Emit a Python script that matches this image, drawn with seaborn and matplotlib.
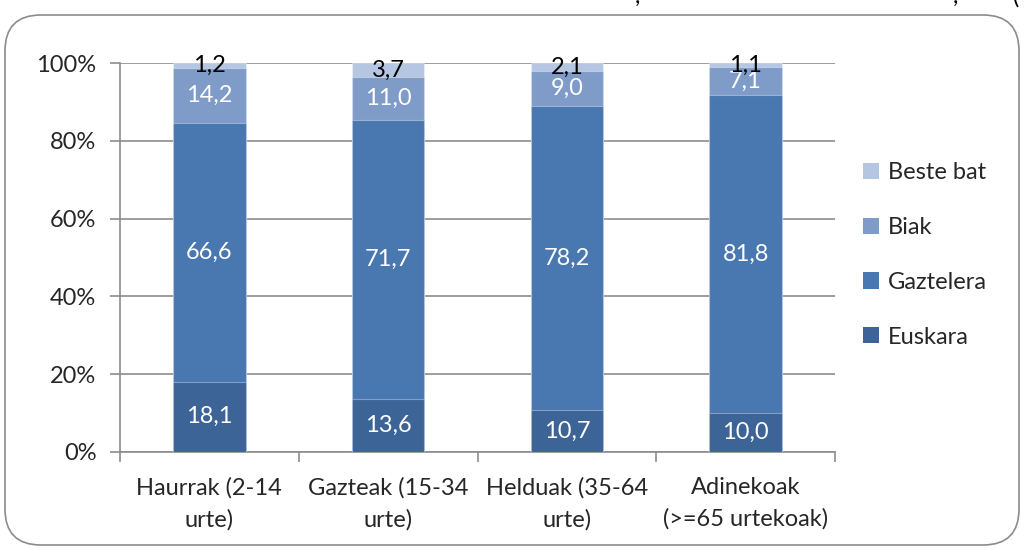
import matplotlib
matplotlib.use("Agg")
import matplotlib.pyplot as plt
from matplotlib.patches import FancyBboxPatch, Patch
import numpy as np
import pandas as pd
import seaborn as sns

categories = ["Haurrak (2-14\nurte)", "Gazteak (15-34\nurte)", "Helduak (35-64\nurte)", "Adinekoak\n(>=65 urtekoak)"]
series_names = ["Euskara", "Gaztelera", "Biak", "Beste bat"]
euskara = [18.1, 13.6, 10.7, 10.0]
gaztelera = [66.6, 71.7, 78.2, 81.8]
biak = [14.2, 11.0, 9.0, 7.1]
beste_bat = [1.2, 3.7, 2.1, 1.1]
yticks = [0, 20, 40, 60, 80, 100]
ytick_labels = ["0%", "20%", "40%", "60%", "80%", "100%"]

colors = ["#3D6497", "#4977B0", "#7F9CC9", "#B5C6E2"]
label_colors = ["white", "white", "white", "black"]
FS = 17

sns.set_theme(style="white")
plt.rcParams["font.family"] = ["Lato", "DejaVu Sans"]

series = [euskara, gaztelera, biak, beste_bat]
values = np.array(series)
totals = values.sum(axis=0)
shares = values / totals * 100.0
cum = np.cumsum(shares, axis=0)

fig = plt.figure(figsize=(10.26, 5.49), dpi=100)
ax = fig.add_axes([120 / 1026, 1 - 452 / 549, (835 - 120) / 1026, (452 - 63) / 549])

# Outer rounded frame
frame = FancyBboxPatch((5 / 1026, 4 / 549), 1014 / 1026, 530 / 549,
                       boxstyle="round,pad=0,rounding_size=0.035",
                       transform=fig.transFigure, facecolor="none",
                       edgecolor="#8C8C8C", linewidth=1.2, zorder=0,
                       mutation_aspect=1026 / 549)
fig.patches.append(frame)

# Stacked bars: draw cumulative heights from the top segment down
for i in range(len(series_names) - 1, -1, -1):
    df = pd.DataFrame({"cat": categories, "val": cum[i]})
    sns.barplot(data=df, x="cat", y="val", color=colors[i], saturation=1,
                width=0.405, edgecolor=(1, 1, 1, 0.35), linewidth=0.8,
                ax=ax, zorder=3)

# Segment value labels
for i in range(len(series_names)):
    bottoms = cum[i] - shares[i]
    for j in range(len(categories)):
        ymid = bottoms[j] + shares[i][j] / 2
        ax.text(j, ymid, f"{series[i][j]:.1f}".replace(".", ","),
                ha="center", va="center", fontsize=FS,
                color=label_colors[i], zorder=5)

ax.set_ylim(0, 100)
ax.set_xlim(-0.5, len(categories) - 0.5)
ax.set_yticks(yticks)
ax.set_yticklabels(ytick_labels)
ax.set_xlabel("")
ax.set_ylabel("")
ax.yaxis.grid(True, color="#8C8C8C", linewidth=1.2, zorder=0)
ax.set_axisbelow(True)
for side in ["top", "right"]:
    ax.spines[side].set_visible(False)
for side in ["left", "bottom"]:
    ax.spines[side].set_color("#8C8C8C")
    ax.spines[side].set_linewidth(1.2)

ax.set_xticks(np.arange(len(categories)))
ax.set_xticklabels(categories, fontsize=FS, linespacing=1.6)
ax.tick_params(axis="x", length=0, pad=18)
ax.set_xticks(np.arange(len(categories) + 1) - 0.5, minor=True)
ax.tick_params(axis="x", which="minor", length=7, color="#8C8C8C", width=1.2, direction="out")
ax.tick_params(axis="y", length=7, color="#8C8C8C", width=1.2, direction="out", labelsize=FS, pad=10)
ax.tick_params(axis="y", left=True)
ax.tick_params(axis="x", which="minor", bottom=True)

handles = [Patch(facecolor=colors[i], edgecolor="none", label=series_names[i])
           for i in range(len(series_names) - 1, -1, -1)]
fig.legend(handles=handles, loc="upper left", bbox_to_anchor=(842 / 1026, 1 - 141 / 549),
           frameon=False, fontsize=FS, handlelength=0.68, handleheight=0.68,
           handletextpad=0.35, labelspacing=1.43)

# Lower edge of the heading line above the frame
for xp, s in [(637, ","), (955, ","), (1016, "(")]:
    fig.text(xp / 1026, 1 - 4 / 549, s, fontsize=FS, ha="center", va="baseline", color="black")

fig.savefig("out.png", dpi=100)
